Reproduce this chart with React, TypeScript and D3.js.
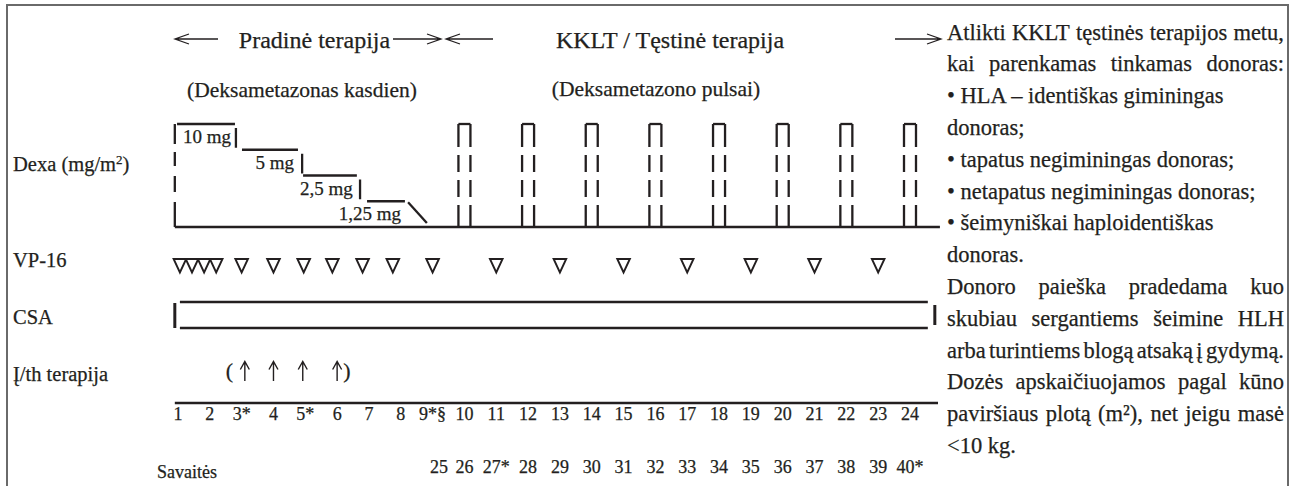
import React from 'react';
import * as d3 from 'd3';

// --- data ---
const weekLabels = ['1', '2', '3*', '4', '5*', '6', '7', '8', '9*§', '10', '11', '12', '13', '14', '15', '16', '17', '18', '19', '20', '21', '22', '23', '24'];
const laterLabels = ['25', '26', '27*', '28', '29', '30', '31', '32', '33', '34', '35', '36', '37', '38', '39', '40*'];
const laterWeeks = [9.2, 10, 11, 12, 13, 14, 15, 16, 17, 18, 19, 20, 21, 22, 23, 24];

const doseLevels = ['10 mg', '5 mg', '2,5 mg', '1,25 mg', '0'];
const stepStart = [0.97, 3.01, 4.93, 6.94];
const stepEnd = [2.79, 4.77, 6.62, 8.13];
const stepDrop = [2.82, 4.9, 6.72];
const pulseWeeks = [10, 12, 14, 16, 18, 20, 22, 24];

const vp16Weeks = [1.06, 1.44, 1.82, 2.2, 3, 4, 4.95, 5.85, 6.8, 7.75, 9, 11, 13, 15, 17, 19, 21, 23];
const ithWeeks = [3.1, 4, 4.92, 6];

const rowLabels = ['Dexa (mg/m', 'VP-16', 'CSA', 'Į/th terapija'];

const infoLines = [
	'Atlikti KKLT tęstinės terapijos metu,',
	'kai parenkamas tinkamas donoras:',
	'• HLA – identiškas giminingas',
	'donoras;',
	'• tapatus negiminingas donoras;',
	'• netapatus negiminingas donoras;',
	'• šeimyniškai haploidentiškas',
	'donoras.',
	'Donoro paieška pradedama kuo',
	'skubiau sergantiems šeimine HLH',
	'arba turintiems blogą atsaką į gydymą.',
	'Dozės apskaičiuojamos pagal kūno',
	'paviršiaus plotą (m²), net jeigu masė',
	'<10 kg.',
];
const infoJustify = [true, true, false, false, false, false, false, false, true, true, true, true, true, false];

const FONT = "'Liberation Serif', 'DejaVu Serif', serif";
const INK = '#231f20';

let ctx: CanvasRenderingContext2D | null = null;
const measure = (s: string, size: number) => {
	if (!ctx) ctx = document.createElement('canvas').getContext('2d');
	if (!ctx) return s.length * size * 0.45;
	ctx.font = `${size}px "Liberation Serif"`;
	return ctx.measureText(s).width;
};

// shaft plus open arrow head, tip on the side the arrow points to
const hArrow = (tip: number, tail: number, y: number) => {
	const dir = tip > tail ? 1 : -1;
	return `M${tail},${y}H${tip}M${tip - dir * 14},${y - 5}L${tip},${y}L${tip - dir * 14},${y + 5}`;
};

const JustifiedLine = ({ text, x, y, width, size, justify }: any) => {
	if (!justify) {
		return (
			<text x={x} y={y} fontSize={size}>
				{text}
			</text>
		);
	}
	const words = text.split(' ');
	const wordW = words.map((w: string) => measure(w, size));
	const gap = (width - d3.sum(wordW)) / (words.length - 1);
	let cx = x;
	return (
		<g>
			{words.map((w: string, i: number) => {
				const px = cx;
				cx += wordW[i] + gap;
				return (
					<text key={i} x={px} y={y} fontSize={size}>
						{w}
					</text>
				);
			})}
		</g>
	);
};

const App = () => {
	const x = d3.scaleLinear().domain([1, 24]).range([178, 910]);
	const doseY = d3.scalePoint<string>().domain(doseLevels).range([124, 227]);
	const base = doseY('0') as number;
	const top = doseY('10 mg') as number;
	const rowY = [171, 267, 324, 381];
	const csaTop = 302;
	const csaBot = 328;
	const axisY = 403;

	return (
		<svg
			width={1296}
			height={486}
			style={{ position: 'absolute', left: 0, top: 0, fontFamily: FONT }}
			fill={INK}>
			{/* frame */}
			<path d='M7,486V5H1288V486' fill='none' stroke='#6a6a6a' strokeWidth={2} />

			<g stroke={INK} strokeWidth={0.25}>
				{/* phase headings */}
				<text x={314.5} y={48} fontSize={24} textAnchor='middle'>
					Pradinė terapija
				</text>
				<text x={670} y={48} fontSize={24} textAnchor='middle'>
					KKLT / Tęstinė terapija
				</text>
				<text x={302} y={97} fontSize={21.5} textAnchor='middle'>
					(Deksametazonas kasdien)
				</text>
				<text x={656} y={96} fontSize={21.5} textAnchor='middle'>
					(Deksametazono pulsai)
				</text>

				{/* row labels */}
				<text x={13} y={rowY[0]} fontSize={20.5}>
					{rowLabels[0]}
					<tspan fontSize={13} dy={-7}>
						2
					</tspan>
					<tspan dy={7}>)</tspan>
				</text>
				{rowLabels.slice(1).map((l, i) => (
					<text key={l} x={13} y={rowY[i + 1]} fontSize={20.5}>
						{l}
					</text>
				))}

				{doseLevels.slice(0, 4).map((d, i) => (
					<text key={d} x={x(stepEnd[i]) - 4} y={(doseY(d) as number) + 19} fontSize={19} textAnchor='end'>
						{d}
					</text>
				))}

				<text x={x(ithWeeks[0]) - 19} y={378} fontSize={22}>
					(
				</text>
				<text x={x(ithWeeks[3]) + 6} y={378} fontSize={22}>
					)
				</text>

				{weekLabels.map((l, i) => (
					<text key={l} x={x(i + 1)} y={420} fontSize={18} textAnchor='middle'>
						{l}
					</text>
				))}
				{laterLabels.map((l, i) => (
					<text key={l} x={x(laterWeeks[i])} y={473} fontSize={18} textAnchor='middle'>
						{l}
					</text>
				))}
				<text x={157} y={478} fontSize={18}>
					Savaitės
				</text>

				{/* side note */}
				{infoLines.map((l, i) => (
					<JustifiedLine key={i} text={l} x={947} y={39.5 + i * 31.8} width={337} size={22.5} justify={infoJustify[i]} />
				))}
			</g>

			<g fill='none' stroke={INK} strokeWidth={1.3}>
				<path d={hArrow(175, 218, 39)} />
				<path d={hArrow(441, 393, 39)} />
				<path d={hArrow(446, 493, 39)} />
				<path d={hArrow(941, 895, 39)} />
			</g>

			{/* Dexa daily taper, then pulses */}
			<g stroke={INK} strokeWidth={2.3} fill='none'>
				<line x1={x(0.9)} x2={x(0.9)} y1={top} y2={base} strokeDasharray='20 8 14 10 16 10 30' />
				{doseLevels.slice(0, 4).map((d, i) => (
					<line key={d} x1={x(stepStart[i])} x2={x(stepEnd[i])} y1={doseY(d)} y2={doseY(d)} />
				))}
				{stepDrop.map((w, i) => (
					<line
						key={w}
						x1={x(w)}
						x2={x(w)}
						y1={(doseY(doseLevels[i]) as number) + 4}
						y2={(doseY(doseLevels[i + 1]) as number) - 2}
					/>
				))}
				<line x1={x(8.23)} x2={x(8.82)} y1={(doseY('1,25 mg') as number) + 1} y2={base - 4} />
				<line x1={x(0.9)} x2={x(24.94)} y1={base} y2={base} strokeWidth={2.5} />
				{pulseWeeks.map((w) => (
					<g key={w}>
						<line x1={x(w) - 6} x2={x(w) + 6} y1={top} y2={top} />
						<line x1={x(w) - 6} x2={x(w) - 6} y1={top} y2={base} strokeDasharray='23 8 17 8 17 8 30' />
						<line x1={x(w) + 6} x2={x(w) + 6} y1={top} y2={base} strokeDasharray='23 8 17 8 17 8 30' />
					</g>
				))}
			</g>

			{/* VP-16 */}
			<g fill='none' stroke={INK} strokeWidth={1.9} strokeLinejoin='miter'>
				{vp16Weeks.map((w) => (
					<path key={w} d={`M${x(w) - 6.3},259H${x(w) + 6.3}L${x(w)},272.5Z`} />
				))}
			</g>

			{/* CSA */}
			<g stroke={INK} strokeWidth={2.5}>
				<line x1={x(0.9)} x2={x(0.9)} y1={csaTop + 1} y2={csaBot} strokeWidth={3} />
				<line x1={x(1.06)} x2={x(24.56)} y1={csaTop} y2={csaTop} />
				<line x1={x(1.06)} x2={x(24.56)} y1={csaBot} y2={csaBot} />
				<line x1={x(24.78)} x2={x(24.78)} y1={csaTop + 3} y2={csaBot - 3} strokeWidth={3} />
			</g>

			{/* intrathecal therapy */}
			<g fill='none' stroke={INK} strokeWidth={1.4}>
				{ithWeeks.map((w) => (
					<path key={w} d={`M${x(w)},381V362M${x(w) - 4.5},369.5L${x(w)},361.5L${x(w) + 4.5},369.5`} />
				))}
			</g>

			{/* week axis */}
			<line x1={x(0.9)} x2={x(24.88)} y1={axisY} y2={axisY} stroke={INK} strokeWidth={2.5} />
		</svg>
	);
};

export default App;
